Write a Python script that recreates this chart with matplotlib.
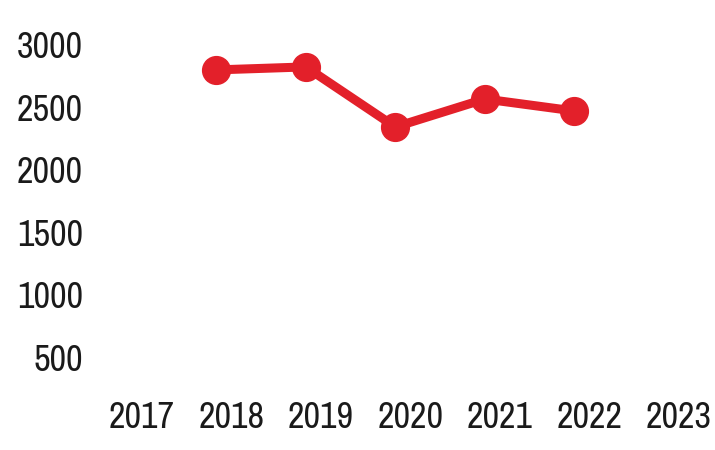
import matplotlib
matplotlib.use("Agg")
import matplotlib.pyplot as plt
from matplotlib import font_manager
from matplotlib.transforms import ScaledTranslation

years = [2017, 2018, 2019, 2020, 2021, 2022, 2023]
data_years = [2018, 2019, 2020, 2021, 2022]
values = [2800, 2824, 2343, 2567, 2471]
yticks = [500, 1000, 1500, 2000, 2500, 3000]

# a narrow font if one is around
names = sorted({f.name for f in font_manager.fontManager.ttflist})
narrow = [n for n in names if "Narrow" in n or "Condensed" in n]
fam = narrow[:1] + ["DejaVu Sans"]
plt.rcParams["font.family"] = fam

red = "#e3202a"

fig = plt.figure(figsize=(7.15, 4.5), dpi=100)
ax = fig.add_axes([90 / 715, 70 / 450, 625 / 715, 380 / 450])

ax.plot(data_years, values, color=red, lw=6.5, marker="o", ms=20,
        solid_capstyle="round", zorder=3)

ax.set_xlim(2016.59, 2023.57)
ax.set_ylim(316, 3360)
ax.set_xticks(years)
ax.set_xticklabels([str(y) for y in years])
ax.set_yticks(yticks)
ax.set_yticklabels([str(v) for v in yticks])

ax.tick_params(length=0, labelsize=26, colors="#1a1a1a")
ax.tick_params(axis="x", pad=15)
ax.tick_params(axis="y", pad=5)
for lab in ax.get_xticklabels():
    lab.set_transform(lab.get_transform() + ScaledTranslation(15 / 100, 0, fig.dpi_scale_trans))
for s in ax.spines.values():
    s.set_visible(False)

fig.savefig("out.png", dpi=100)
